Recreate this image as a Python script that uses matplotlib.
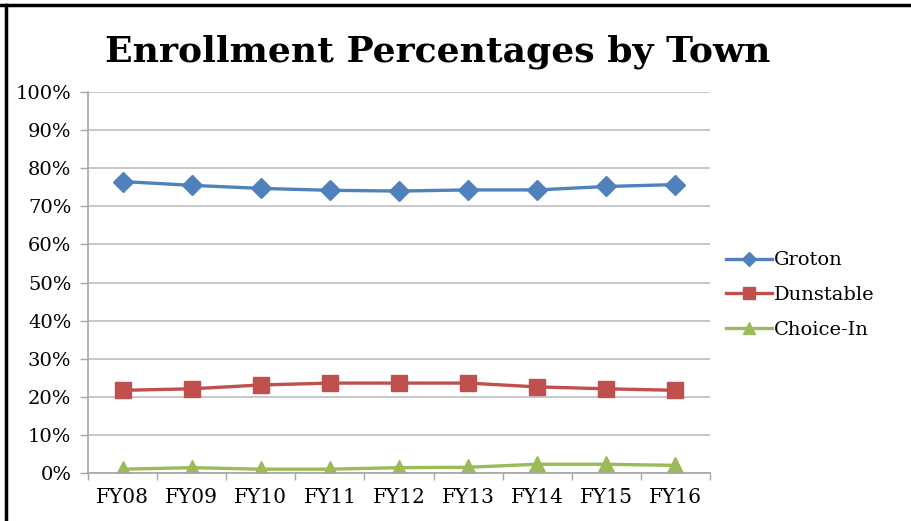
import matplotlib
matplotlib.use('Agg')
import matplotlib.pyplot as plt
from matplotlib.lines import Line2D
from matplotlib.ticker import FuncFormatter, MultipleLocator

years = ['FY08', 'FY09', 'FY10', 'FY11', 'FY12', 'FY13', 'FY14', 'FY15', 'FY16']
groton = [76.5, 75.5, 74.7, 74.2, 74.0, 74.3, 74.3, 75.2, 75.7]
dunstable = [21.7, 22.1, 23.1, 23.6, 23.6, 23.6, 22.6, 22.1, 21.7]
choice_in = [1.0, 1.4, 1.0, 1.0, 1.4, 1.5, 2.3, 2.3, 2.0]

plt.rcParams['font.family'] = ['DejaVu Serif']

fig = plt.figure(figsize=(9.11, 5.21), dpi=100)
ax = fig.add_axes([88 / 911, 1 - 473 / 521, 622 / 911, 381 / 521])

x = range(len(years))
ax.plot(x, groton, color='#4F81BD', lw=2.4, marker='D', ms=10, label='Groton')
ax.plot(x, dunstable, color='#C0504D', lw=2.4, marker='s', ms=11, label='Dunstable')
ax.plot(x, choice_in, color='#9BBB59', lw=2.4, marker='^', ms=11, label='Choice-In')

ax.set_xlim(-0.5, len(years) - 0.5)
ax.set_ylim(0, 100)
ax.yaxis.set_major_locator(MultipleLocator(10))
ax.yaxis.set_major_formatter(FuncFormatter(lambda v, p: f'{v:.0f}%'))
ax.set_xticks(list(x))
ax.set_xticklabels(years)
# category boundary ticks on the x axis
ax.set_xticks([i - 0.5 for i in range(len(years) + 1)], minor=True)
ax.tick_params(axis='x', which='major', length=0, pad=11, labelsize=14.5)
ax.tick_params(axis='x', which='minor', length=5, color='#A6A6A6', width=1)
ax.tick_params(axis='y', length=6, color='#A6A6A6', width=1, pad=6, labelsize=14)

ax.grid(axis='y', color='#BFBFBF', lw=1.2)
ax.set_axisbelow(True)
for side in ['top', 'right']:
    ax.spines[side].set_visible(False)
for side in ['left', 'bottom']:
    ax.spines[side].set_color('#A6A6A6')
    ax.spines[side].set_linewidth(1.2)

fig.text(438 / 911, 1 - 52 / 521, 'Enrollment Percentages by Town',
         ha='center', va='center', fontsize=26, fontweight='bold')

fig.legend(loc='center left', bbox_to_anchor=(708 / 911, 1 - 295 / 521),
           frameon=False, fontsize=14, handlelength=2.4, handletextpad=0.1,
           labelspacing=0.85, markerscale=0.75)

# frame lines along the top and left edges
fig.add_artist(Line2D([0, 1], [1 - 5 / 521, 1 - 5 / 521], color='black', lw=2.5))
fig.add_artist(Line2D([6 / 911, 6 / 911], [0, 1 - 5 / 521], color='black', lw=2.5))

fig.savefig('out.png', dpi=100)
